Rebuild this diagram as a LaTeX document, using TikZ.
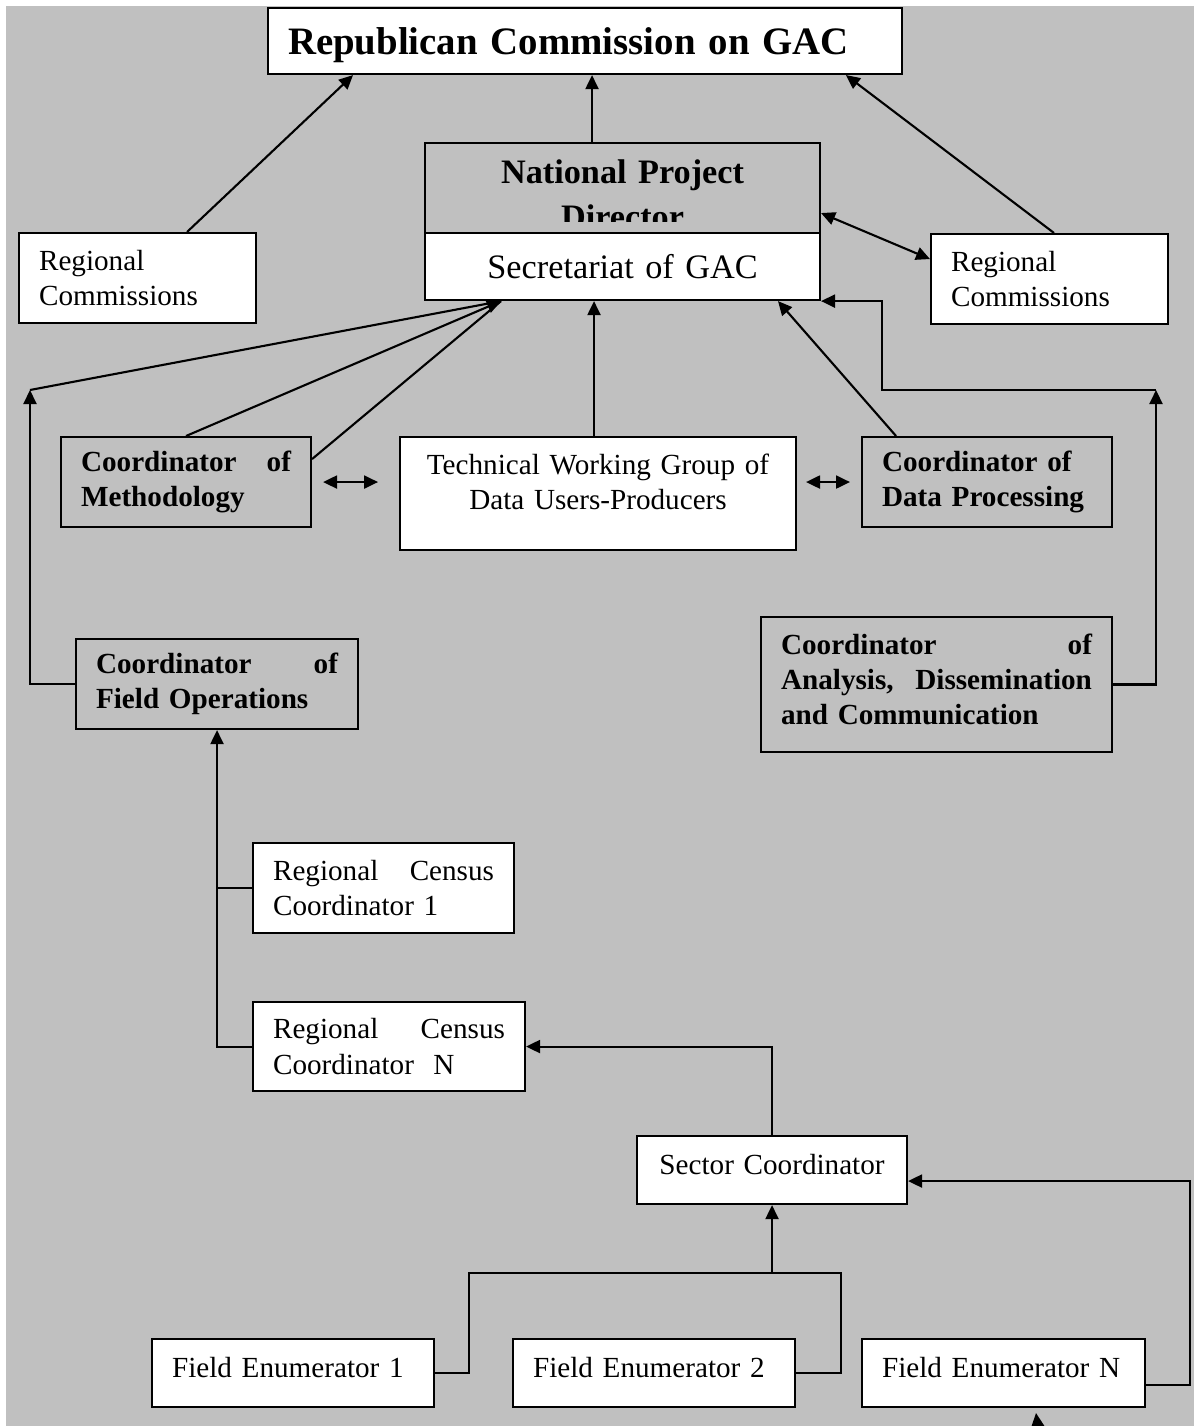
\documentclass[tikz,border=0pt]{standalone}
\usepackage{fontspec}
\setmainfont{Liberation Serif}
\usepackage{tikz}
\usetikzlibrary{arrows.meta,positioning}

\definecolor{panel}{HTML}{C0C0C0}
\newcommand{\bodysize}{\fontsize{16.6}{20}\selectfont}
\newcommand{\midsize}{\fontsize{19.5}{25.5}\selectfont}
\newcommand{\topsize}{\fontsize{22.1}{27}\selectfont}

\begin{document}
\begin{tikzpicture}[%
    x=0.02cm, y=-0.02cm,
    line width=1.2pt,
    >={Triangle[length=0.28cm,width=0.26cm]},
    box/.style={draw, fill=white, anchor=north west, inner xsep=0.4cm,
        inner ysep=0pt, align=left, font=\bodysize},
    gbox/.style={box, fill=panel, font=\bodysize\bfseries}
    ]

    \useasboundingbox (0,0) rectangle (1194,1426);
    \fill[panel] (6,6) rectangle (1194,1426);

    % top of the chart
    \node[box, font=\topsize\bfseries, text width=11.88cm, minimum height=1.32cm, text height=0.7cm] (rep) at (267,7) {Republican Commission on GAC};
    \node[gbox, font=\midsize\bfseries, align=center, text width=7.1cm, minimum height=1.8cm, text height=0.74cm] (npd) at (424,142) {National Project\\Director};
    \fill[panel] (426,222) rectangle (817,232);
    \node[box, font=\midsize, align=center, text width=7.1cm, minimum height=1.34cm] (sec) at (424,232) {Secretariat of GAC};
    \node[box, text width=3.94cm, minimum height=1.8cm] (regl) at (18,232) {Regional\\Commissions};
    \node[box, text width=3.94cm, minimum height=1.8cm] (regr) at (930,233) {Regional\\Commissions};

    % coordinators
    \node[gbox, text width=4.2cm, minimum height=1.8cm] (meth) at (60,436) {Coordinator \hfill of\\Methodology};
    \node[box, align=center, text width=7.12cm, minimum height=2.26cm, text depth=1.18cm] (twg) at (399,436) {Technical Working Group of\\Data Users-Producers};
    \node[gbox, text width=4.2cm, minimum height=1.8cm] (dproc) at (861,436) {Coordinator of\\Data Processing};
    \node[gbox, text width=6.22cm, minimum height=2.7cm, text depth=1.62cm] (adc) at (760,616) {Coordinator \hfill of\\Analysis, \hfill Dissemination\\and Communication};
    \node[gbox, text width=4.84cm, minimum height=1.8cm] (fops) at (75,638) {Coordinator \hfill of\\Field Operations};

    % field level
    \node[box, text width=4.42cm, minimum height=1.8cm] (rcc1) at (252,842) {Regional \hfill Census\\Coordinator 1};
    \node[box, text width=4.64cm, minimum height=1.78cm] (rccn) at (252,1001) {Regional \hfill Census\\Coordinator~~N};
    \node[box, align=center, text width=4.6cm, minimum height=1.36cm, text depth=0.24cm] (sect) at (636,1135) {Sector Coordinator};
    \node[box, text width=4.84cm, minimum height=1.36cm, text depth=0.24cm] (fen1) at (151,1338) {Field Enumerator 1};
    \node[box, text width=4.84cm, minimum height=1.36cm, text depth=0.24cm] (fen2) at (512,1338) {Field Enumerator 2};
    \node[box, text width=4.86cm, minimum height=1.36cm, text depth=0.24cm] (fenn) at (861,1338) {Field Enumerator N};

    % up to the commission
    \draw[->] ([xshift=0.99cm]regl.north) -- ([xshift=-4.64cm]rep.south);
    \draw[->] ([xshift=-0.61cm]npd.north) -- ([xshift=-0.61cm]npd.north |- rep.south);
    \draw[->] ([xshift=0.09cm]regr.north) -- ([xshift=5.22cm]rep.south);
    \draw[<->] ([yshift=-0.5cm]npd.east) -- ([yshift=0.4cm]regr.west);

    % into the secretariat
    \coordinate (hub) at ([xshift=-2.43cm]sec.south);
    \coordinate (lbend) at (30,390);
    \coordinate (rbend) at (1156,390);
    \draw[->] (fops.west) -| (lbend);
    \draw (lbend) -- (hub);
    \draw[->] (meth.north) -- (hub);
    \draw ([yshift=0.46cm]meth.east) -- (hub);
    \draw[->] ([xshift=-0.08cm]twg.north) -- ([xshift=-0.08cm]twg.north |- sec.south);
    \draw[->] ([xshift=-1.82cm]dproc.north) -- ([xshift=3.11cm]sec.south);
    \draw[->] (adc.east) -| (rbend);
    \draw[->] (rbend) -- ++(-274,0) |- (sec.south east);
    \draw[<->] ([xshift=0.22cm]meth.east) -- ([xshift=1.32cm]meth.east);
    \draw[<->] ([xshift=-1.1cm]dproc.west) -- ([xshift=-0.22cm]dproc.west);

    % field operations
    \draw[->] (rccn.west) -| (fops.south);
    \draw (rcc1.west) -- (rcc1.west -| fops.south);
    \draw[->] (sect.north) |- (rccn.east);
    \coordinate (join) at ([yshift=-1.36cm]sect.south);
    \draw[->] (join) -- (sect.south);
    \draw (fen1.east) -- ++(34,0) |- (join) -| ([xshift=0.9cm]fen2.east) -- (fen2.east);
    \draw[->] ([yshift=-0.24cm]fenn.east) -- ++(44,0) |- ([yshift=-0.22cm]sect.east);

    % head at the lower edge
    \coordinate (tail) at (1040,1445);
    \coordinate (tip) at (1036,1413);
    \draw[->] (tail) -- (tip);

\end{tikzpicture}
\end{document}
